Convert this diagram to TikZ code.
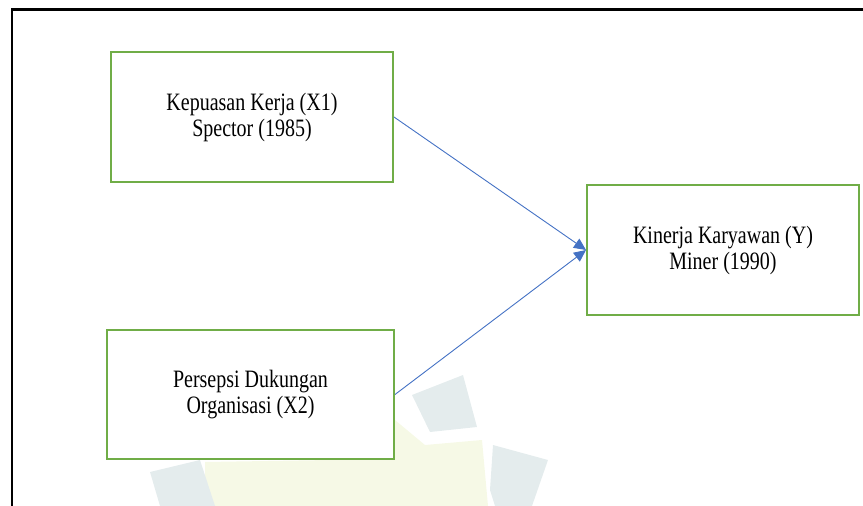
\documentclass[tikz,border=0pt]{standalone}
\usepackage{fontspec}
\setmainfont{Liberation Serif}
\newfontfamily\boxfont[FakeStretch=0.8]{Liberation Serif}
\usetikzlibrary{arrows.meta}
\definecolor{boxgreen}{HTML}{70AD47}
\definecolor{arrowblue}{HTML}{4472C4}
\definecolor{logoyellow}{HTML}{F6F9E6}
\definecolor{logoblue}{HTML}{E4ECED}
\tikzset{
  varbox/.style={draw=boxgreen,line width=2pt,fill=white,align=center,inner sep=0pt,
    font=\boxfont\fontsize{25}{26}\selectfont},
  pathline/.style={arrowblue,line width=0.9pt,-{Triangle[length=12pt,width=11pt]}}
}
\begin{document}
\begin{tikzpicture}[x=1pt,y=-1pt]
\useasboundingbox (0,0) rectangle (863,506);
% faint logo in the background
\fill[logoyellow](205,462)--(330,460)--(395,420)--(425,445)--(482,440)--(488,506)--(205,506)--cycle;
\fill[logoblue](150,472)--(200,460)--(215,506)--(160,506)--cycle;
\fill[logoblue](412,395)--(463,375)--(477,427)--(430,432)--cycle;
\fill[logoblue](493,445)--(548,460)--(532,506)--(495,506)--(490,490)--cycle;
% frame
\draw[line width=2.5pt](12,506)--(12,9.5)--(863,9.5);
% variables
\node[varbox,minimum width=282pt,minimum height=130pt] (kepuasan) at (252,117)
  {Kepuasan Kerja (X1)\\Spector (1985)};
\node[varbox,minimum width=287pt,minimum height=129pt] (dukungan) at (250.5,394.5)
  {Persepsi Dukungan\\Organisasi (X2)};
\node[varbox,minimum width=272pt,minimum height=130pt] (kinerja) at (723,250)
  {Kinerja Karyawan (Y)\\Miner (1990)};
% paths
\draw[pathline](kepuasan.east)--(kinerja.west);
\draw[pathline](dukungan.east)--(kinerja.west);
\end{tikzpicture}
\end{document}
